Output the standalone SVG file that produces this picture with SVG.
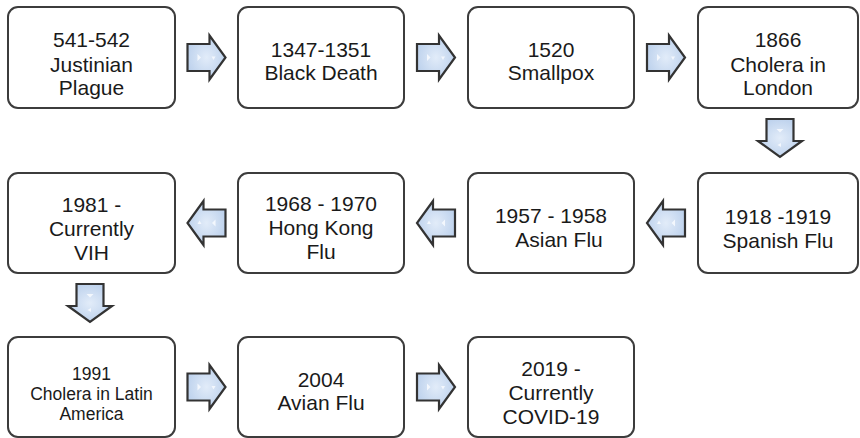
<svg xmlns="http://www.w3.org/2000/svg" xmlns:xlink="http://www.w3.org/1999/xlink" width="860" height="438" viewBox="0 0 860 438">
<style>
.box{fill:#ffffff;stroke:#3c3c3c;stroke-width:2}
.t{font-family:"Liberation Sans",Arial,sans-serif;font-size:21px;font-weight:normal;fill:#1a1a1a;text-anchor:middle}
.s{font-size:17.5px}
.arr{fill:url(#ag);stroke:#333333;stroke-width:2.2;stroke-linejoin:miter}
.hl{fill:#f3f7fd;stroke:none}
</style>
<defs>
<radialGradient id="ag" cx="0.5" cy="0.5" r="0.6">
<stop offset="0" stop-color="#e2ecf9"/>
<stop offset="1" stop-color="#b8ceeb"/>
</radialGradient>
<g id="ra">
<path class="arr" d="M-19,-13.5 H3 V-22 L19,0 L3,22 V13.5 H-19 Z"/>
<path class="hl" d="M-9,-3.5 L-5.5,0 L-9,3.5 Z"/>
<path class="hl" d="M5,-1 L9,-1 L7,2.5 Z"/>
</g>
</defs>
<rect width="860" height="438" fill="#ffffff"/>
<g id="connectors">
<use xlink:href="#ra" transform="translate(206.5,57.5)"/>
<use xlink:href="#ra" transform="translate(436,57.5)"/>
<use xlink:href="#ra" transform="translate(666,57.5)"/>
<use xlink:href="#ra" transform="translate(780,138) rotate(90)"/>
<use xlink:href="#ra" transform="translate(666,223) rotate(180)"/>
<use xlink:href="#ra" transform="translate(436,223) rotate(180)"/>
<use xlink:href="#ra" transform="translate(206.5,223) rotate(180)"/>
<use xlink:href="#ra" transform="translate(90,303) rotate(90)"/>
<use xlink:href="#ra" transform="translate(206.5,387)"/>
<use xlink:href="#ra" transform="translate(436,387)"/>
</g>
<g id="n1"><rect class="box" x="8" y="7" width="167" height="101" rx="10"/>
<text class="t" x="91.5" y="47">541-542</text><text class="t" x="91.5" y="71.5">Justinian</text><text class="t" x="91.5" y="95">Plague</text></g>
<g id="n2"><rect class="box" x="238" y="7" width="166" height="101" rx="10"/>
<text class="t" x="321" y="57">1347-1351</text><text class="t" x="321" y="80">Black Death</text></g>
<g id="n3"><rect class="box" x="468" y="7" width="166" height="101" rx="10"/>
<text class="t" x="551" y="57">1520</text><text class="t" x="551" y="80">Smallpox</text></g>
<g id="n4"><rect class="box" x="698" y="7" width="160" height="101" rx="10"/>
<text class="t" x="778" y="47">1866</text><text class="t" x="778" y="71.5">Cholera in</text><text class="t" x="778" y="95">London</text></g>
<g id="n5"><rect class="box" x="698" y="173" width="160" height="100" rx="10"/>
<text class="t" x="778" y="224">1918 -1919</text><text class="t" x="778" y="248">Spanish Flu</text></g>
<g id="n6"><rect class="box" x="468" y="173" width="166" height="100" rx="10"/>
<text class="t" x="551" y="223">1957 - 1958</text><text class="t" x="559" y="247">Asian Flu</text></g>
<g id="n7"><rect class="box" x="238" y="173" width="166" height="100" rx="10"/>
<text class="t" x="321" y="211">1968 - 1970</text><text class="t" x="321" y="235">Hong Kong</text><text class="t" x="321" y="259">Flu</text></g>
<g id="n8"><rect class="box" x="8" y="173" width="167" height="100" rx="10"/>
<text class="t" x="91.5" y="212">1981 -</text><text class="t" x="91.5" y="236">Currently</text><text class="t" x="91.5" y="260">VIH</text></g>
<g id="n9"><rect class="box" x="8" y="337" width="167" height="100" rx="10"/>
<text class="t s" x="91.5" y="380">1991</text><text class="t s" x="91.5" y="400">Cholera in Latin</text><text class="t s" x="91.5" y="420">America</text></g>
<g id="n10"><rect class="box" x="238" y="337" width="166" height="100" rx="10"/>
<text class="t" x="321" y="387">2004</text><text class="t" x="321" y="410">Avian Flu</text></g>
<g id="n11"><rect class="box" x="468" y="337" width="166" height="100" rx="10"/>
<text class="t" x="551" y="376">2019 -</text><text class="t" x="551" y="400">Currently</text><text class="t" x="551" y="424">COVID-19</text></g>
</svg>
